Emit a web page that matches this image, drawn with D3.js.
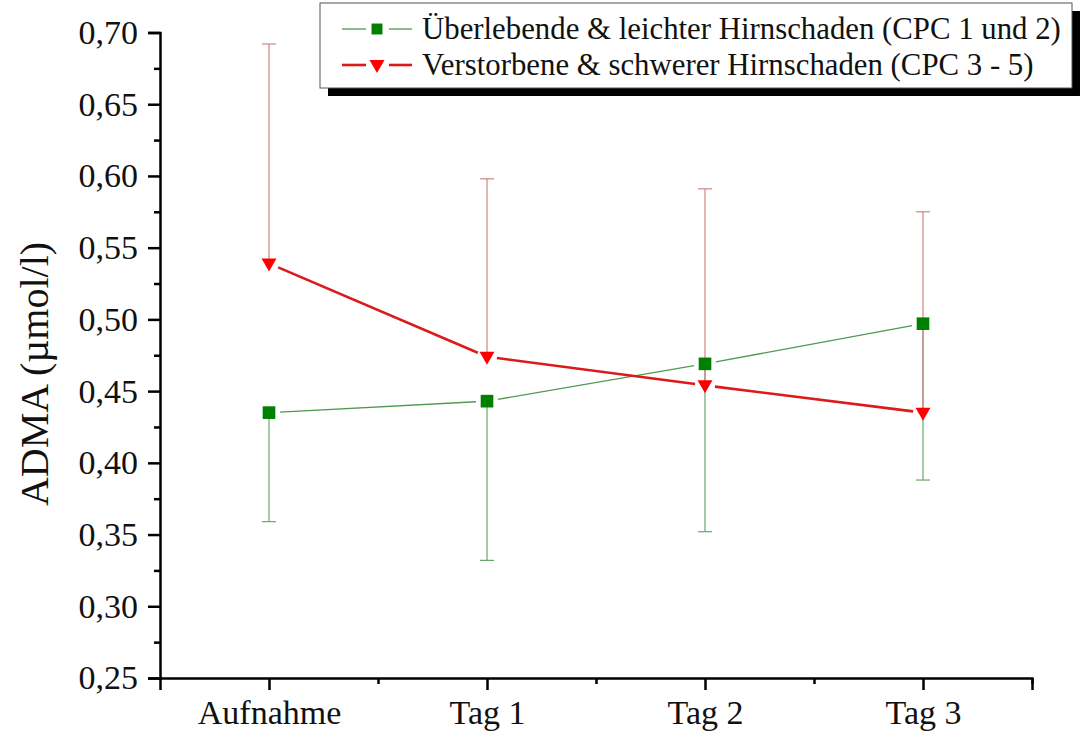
<!DOCTYPE html>
<html>
<head>
<meta charset="utf-8">
<script src="https://cdn.jsdelivr.net/npm/d3@7"></script>
<style>
  html, body { margin: 0; padding: 0; background: #fff; }
  svg { display: block; font-family: "Liberation Serif", "Times New Roman", serif; }
</style>
</head>
<body>
<svg id="chart" width="1091" height="733"></svg>
<script>
// Time points
const categories = ["Aufnahme", "Tag 1", "Tag 2", "Tag 3"];

// Mean ADMA (µmol/l) per group
const survivorMeans = [0.435, 0.443, 0.469, 0.497];
const deceasedMeans = [0.539, 0.474, 0.454, 0.435];

// One-sided error bar ends (survivors: lower, deceased: upper)
const survivorLower = [0.359, 0.332, 0.352, 0.388];
const deceasedUpper = [0.692, 0.598, 0.591, 0.575];

// Axis ticks
const yMajorTicks = [0.25, 0.30, 0.35, 0.40, 0.45, 0.50, 0.55, 0.60, 0.65, 0.70];
const yMinorTicks = [0.275, 0.325, 0.375, 0.425, 0.475, 0.525, 0.575, 0.625, 0.675];
const xMinorTicks = [1.5, 2.5, 3.5, 4.5];

const legendLabels = [
  "Überlebende & leichter Hirnschaden (CPC 1 und 2)",
  "Verstorbene & schwerer Hirnschaden (CPC 3 - 5)"
];

const svg = d3.select("#chart");

const x = d3.scaleLinear().domain([0.5, 4.5]).range([160, 1032]);
const y = d3.scaleLinear().domain([0.25, 0.70]).range([678, 32.5]);
const fmt = v => d3.format(".2f")(v).replace(".", ",");

const green = "#008000", greenLine = "#4f9a4f", greenErr = "#6aa56a";
const red = "#ff0000", redLine = "#dc1a1a", redErr = "#d08585";

// ---- Axes ----
const yAxisG = svg.append("g").attr("transform", `translate(${x(0.5)},0)`);
yAxisG.call(d3.axisLeft(y).tickValues(yMajorTicks).tickSize(12).tickPadding(10).tickFormat(fmt));
yAxisG.append("g").call(d3.axisLeft(y).tickValues(yMinorTicks).tickSize(6).tickFormat(""))
  .select(".domain").remove();

const xAxisG = svg.append("g").attr("transform", `translate(0,${y(0.25)})`);
xAxisG.call(d3.axisBottom(x).tickValues([1, 2, 3, 4]).tickSize(12).tickFormat((d) => categories[d - 1]));
xAxisG.append("g").call(d3.axisBottom(x).tickValues(xMinorTicks).tickSize(6).tickFormat(""))
  .select(".domain").remove();

svg.selectAll(".domain").attr("stroke", "#000").attr("stroke-width", 2.5);
svg.selectAll(".tick line").attr("stroke", "#000").attr("stroke-width", 2.5);
yAxisG.selectAll(".tick text").attr("font-size", 34).attr("font-family", "Liberation Serif").attr("fill", "#111");
xAxisG.selectAll(".tick text").attr("font-size", 34).attr("font-family", "Liberation Serif")
  .attr("fill", "#111").attr("y", 46).attr("dy", 0);

// Y axis title
svg.append("text")
  .attr("transform", `translate(48,374) rotate(-90)`)
  .attr("text-anchor", "middle")
  .attr("font-size", 40)
  .attr("fill", "#111")
  .text("ADMA (µmol/l)");

const idx = d3.range(categories.length);

// ---- Error bars ----
function errorBars(means, ends, color) {
  const g = svg.append("g").attr("stroke", color).attr("stroke-width", 1.2).attr("fill", "none");
  g.selectAll("line.v").data(idx).join("line")
    .attr("x1", i => x(i + 1)).attr("x2", i => x(i + 1))
    .attr("y1", i => y(means[i])).attr("y2", i => y(ends[i]));
  g.selectAll("line.c").data(idx).join("line")
    .attr("x1", i => x(i + 1) - 7).attr("x2", i => x(i + 1) + 7)
    .attr("y1", i => y(ends[i])).attr("y2", i => y(ends[i]));
}
errorBars(survivorMeans, survivorLower, greenErr);
errorBars(deceasedMeans, deceasedUpper, redErr);

// ---- Connecting lines, with small gaps at the markers ----
function connect(means, color, width, gap) {
  const segs = d3.pairs(idx).map(([a, b]) => {
    const x1 = x(a + 1), y1 = y(means[a]), x2 = x(b + 1), y2 = y(means[b]);
    const len = Math.hypot(x2 - x1, y2 - y1);
    const ux = (x2 - x1) / len, uy = (y2 - y1) / len;
    return [x1 + ux * gap, y1 + uy * gap, x2 - ux * gap, y2 - uy * gap];
  });
  svg.append("g").selectAll("line").data(segs).join("line")
    .attr("x1", d => d[0]).attr("y1", d => d[1]).attr("x2", d => d[2]).attr("y2", d => d[3])
    .attr("stroke", color).attr("stroke-width", width);
}
connect(survivorMeans, greenLine, 1.3, 11);
connect(deceasedMeans, redLine, 2.6, 10);

// ---- Markers ----
const squareSym = d3.symbol().type(d3.symbolSquare).size(160);
const triPath = "M-7.5,-6 L7.5,-6 L0,7 Z";

svg.append("g").selectAll("path").data(idx).join("path")
  .attr("d", squareSym)
  .attr("transform", i => `translate(${x(i + 1)},${y(survivorMeans[i])})`)
  .attr("fill", green);

svg.append("g").selectAll("path").data(idx).join("path")
  .attr("d", triPath)
  .attr("transform", i => `translate(${x(i + 1)},${y(deceasedMeans[i]) + 1})`)
  .attr("fill", red);

// ---- Legend ----
const lg = svg.append("g");
lg.append("rect").attr("x", 328).attr("y", 11).attr("width", 752).attr("height", 85).attr("fill", "#000");
lg.append("rect").attr("x", 320).attr("y", 3).attr("width", 752).attr("height", 85)
  .attr("fill", "#fff").attr("stroke", "#555").attr("stroke-width", 1);

const rows = [
  { label: legendLabels[0], cy: 29, color: greenLine, w: 1.3, marker: "sq" },
  { label: legendLabels[1], cy: 65, color: redLine, w: 2.6, marker: "tri" }
];
rows.forEach(r => {
  lg.append("line").attr("x1", 342).attr("x2", 366).attr("y1", r.cy).attr("y2", r.cy)
    .attr("stroke", r.color).attr("stroke-width", r.w);
  lg.append("line").attr("x1", 389).attr("x2", 412).attr("y1", r.cy).attr("y2", r.cy)
    .attr("stroke", r.color).attr("stroke-width", r.w);
  if (r.marker === "sq") {
    lg.append("path").attr("d", d3.symbol().type(d3.symbolSquare).size(120))
      .attr("transform", `translate(377,${r.cy})`).attr("fill", green);
  } else {
    lg.append("path").attr("d", triPath)
      .attr("transform", `translate(377,${r.cy + 1})`).attr("fill", red);
  }
  lg.append("text").attr("x", 422).attr("y", r.cy + 10)
    .attr("font-size", 30.8).attr("fill", "#111").text(r.label);
});
</script>
</body>
</html>
